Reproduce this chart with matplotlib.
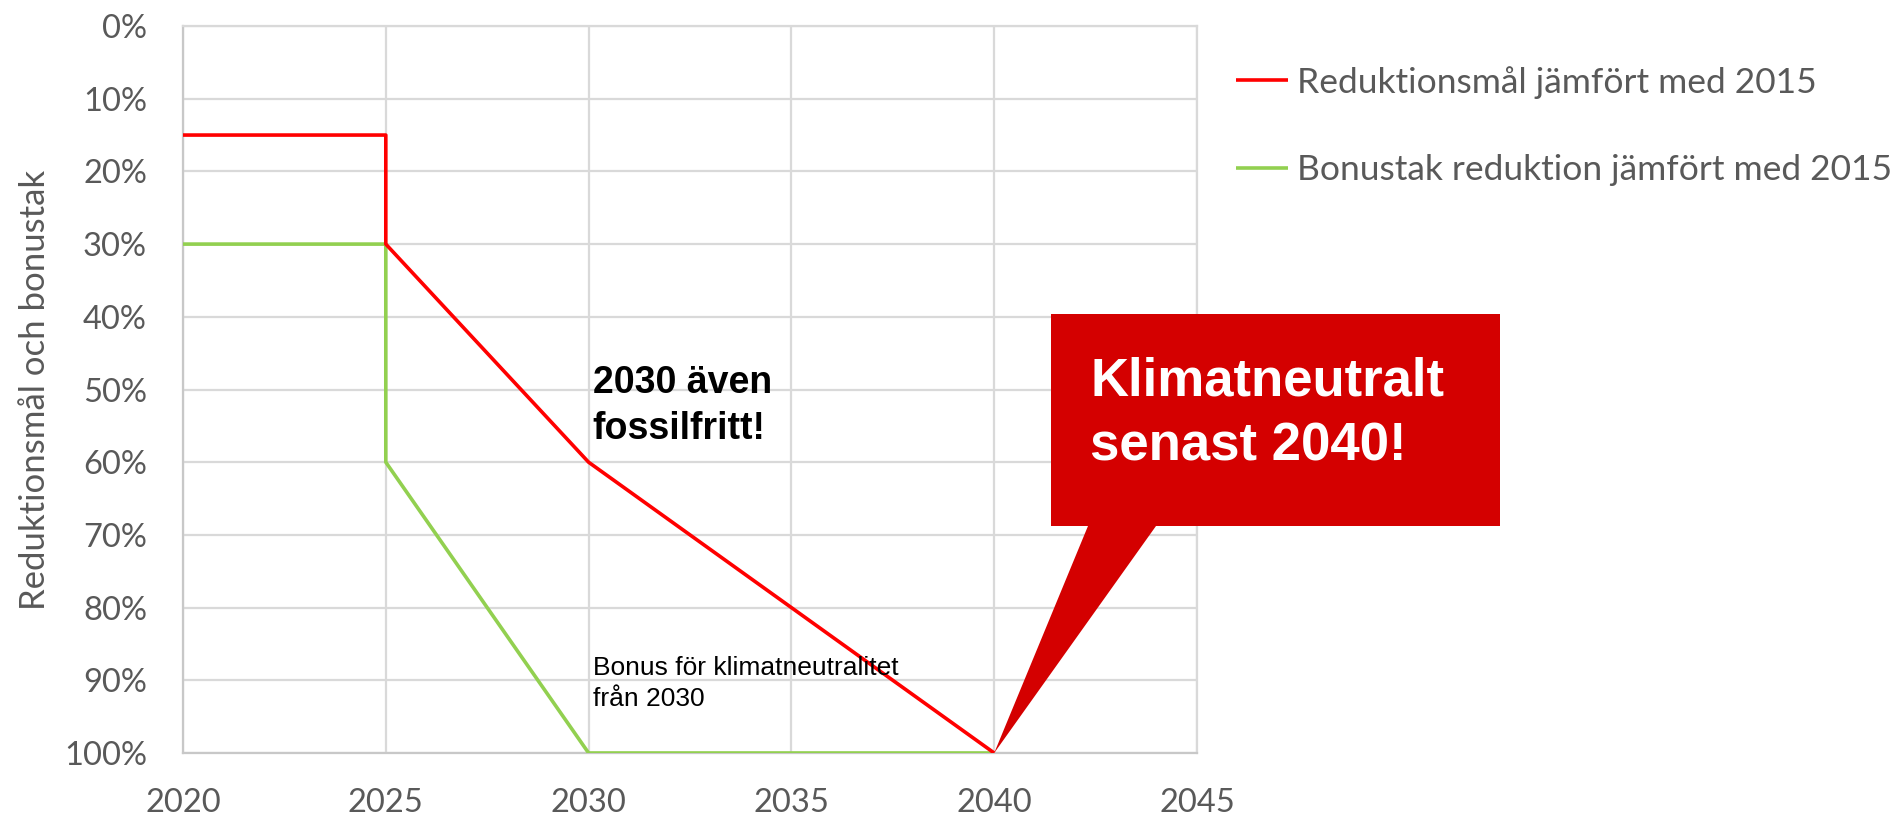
import matplotlib.pyplot as plt
from matplotlib.patches import Polygon

# Data
years_red = [2020, 2025, 2025, 2030, 2040]
red_pct = [15, 15, 30, 60, 100]
years_green = [2020, 2025, 2025, 2030, 2040]
green_pct = [30, 30, 60, 100, 100]
x_ticks = [2020, 2025, 2030, 2035, 2040, 2045]
y_ticks = [0, 10, 20, 30, 40, 50, 60, 70, 80, 90, 100]
labels = ["Reduktionsmål jämfört med 2015", "Bonustak reduktion jämfört med 2015"]

W, H = 1896, 819
gray = "#595959"
grid_col = "#D9D9D9"

fig = plt.figure(figsize=(W / 100, H / 100), dpi=100)
ax = fig.add_axes([183 / W, 1 - 753 / H, (1197 - 183) / W, (753 - 26) / H])

ax.plot(years_green, green_pct, color="#92D050", lw=2.6, label=labels[1], zorder=3, solid_capstyle="butt")
ax.plot(years_red, red_pct, color="#FF0000", lw=2.6, label=labels[0], zorder=4, solid_capstyle="butt")

ax.set_xlim(2020, 2045)
ax.set_ylim(100, 0)
ax.set_xticks(x_ticks)
ax.set_yticks(y_ticks)
ax.set_yticklabels([f"{v}%" for v in y_ticks])
ax.grid(True, color=grid_col, lw=1.6)
ax.set_axisbelow(True)
for s in ax.spines.values():
    s.set_color(grid_col)
    s.set_linewidth(1.6)
ax.spines["left"].set_color("#C8C8C8")
ax.spines["bottom"].set_color("#C8C8C8")
ax.tick_params(length=0, labelsize=23.5, labelcolor=gray)
ax.tick_params(axis="y", pad=26)
ax.tick_params(axis="x", pad=25)
for t in ax.get_xticklabels() + ax.get_yticklabels():
    t.set_family("Lato")

fig.text(35 / W, 1 - 390 / H, "Reduktionsmål och bonustak", rotation=90, ha="center", va="center",
         fontsize=25, color=gray, family="Lato")

# Legend
h, l = ax.get_legend_handles_labels()
leg = fig.legend(h[::-1], l[::-1], loc="center left", bbox_to_anchor=(1236 / W, 1 - 126 / H),
                 frameon=False, borderpad=0, borderaxespad=0, handlelength=1.47, handletextpad=0.25,
                 labelspacing=1.57, prop={"family": "Lato", "size": 25.5})
for t in leg.get_texts():
    t.set_color(gray)

# Text notes
ax.text(2030.1, 46.6, "2030 även\nfossilfritt!", fontsize=27, fontweight="bold", family="Liberation Sans",
        ha="left", va="top", linespacing=1.35, zorder=5)
ax.text(2030.1, 86.6, "Bonus för klimatneutralitet\nfrån 2030", fontsize=19, family="Liberation Sans",
        ha="left", va="top", linespacing=1.4, zorder=5)

# Callout with tail pointing at 2040 / 100 %
tip = fig.transFigure.inverted().transform(ax.transData.transform((2040, 100)))
box = [(1051, 314), (1500, 314), (1500, 526), (1156, 526), None, (1088, 526), (1051, 526)]
pts = []
for p in box:
    if p is None:
        pts.append(tuple(tip))
    else:
        pts.append((p[0] / W, 1 - p[1] / H))
fig.patches.append(Polygon(pts, closed=True, transform=fig.transFigure, facecolor="#D40000",
                           edgecolor="none", zorder=10))
fig.text(1090 / W, 1 - 357 / H, "Klimatneutralt\nsenast 2040!", fontsize=38, fontweight="bold",
         color="white", family="Liberation Sans", ha="left", va="top", linespacing=1.37, zorder=11)

fig.savefig("out.png", dpi=100)
